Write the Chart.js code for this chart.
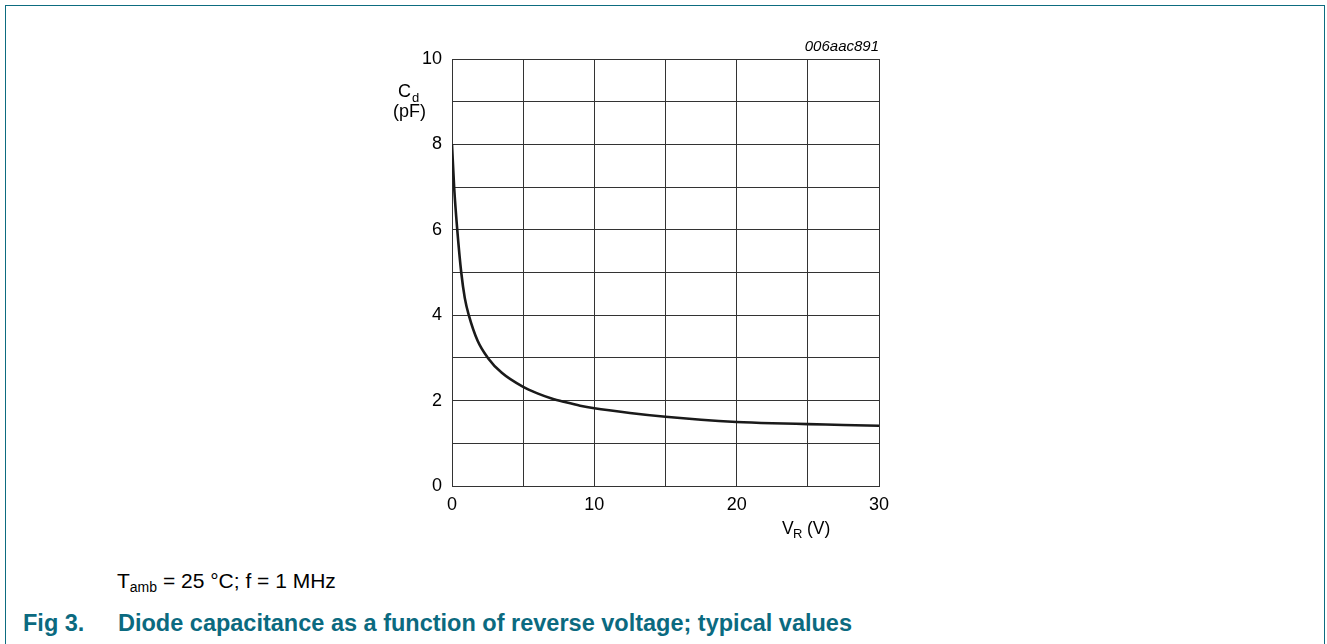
<!DOCTYPE html>
<html>
<head>
<meta charset="utf-8">
<script src="https://cdn.jsdelivr.net/npm/chart.js@4"></script>
<style>
  body { margin: 0; background: #fff; font-family: "Liberation Sans", Arial, sans-serif; }
  #frame { position: absolute; left: 5px; top: 5px; width: 1318px; height: 700px;
           border: 1.5px solid #0d6c80; border-bottom: none; }
  #wrap { position: absolute; left: 350px; top: 20px; width: 570px; height: 530px; }
  #cond { position: absolute; left: 117px; top: 571px; font-size: 21px; line-height: 20px; color: #000; white-space: nowrap; }
  #cond sub { font-size: 14px; vertical-align: -4px; }
  #fig { position: absolute; left: 23px; top: 611px; font-size: 23.5px; line-height: 24px; font-weight: bold; color: #0b6a80; white-space: nowrap; }
  #fig span { position: absolute; left: 95px; top: 0; }
</style>
</head>
<body>
<div id="frame"></div>
<div id="wrap"><canvas id="myChart"></canvas></div>
<div id="cond">T<sub>amb</sub> = 25 °C; f = 1 MHz</div>
<div id="fig">Fig 3.<span>Diode capacitance as a function of reverse voltage; typical values</span></div>
<script>
// Reverse voltage (V) and diode capacitance (pF)
var voltage = [0, 0.15, 0.37, 0.65, 0.9, 1.18, 1.8, 2.52, 3.5, 5, 6, 7, 8, 9, 10, 12.5, 15, 17.5, 20, 22.5, 25, 27.5, 30];
var capacitance = [8.0, 7.0, 6.0, 5.0, 4.4, 4.0, 3.4, 3.0, 2.65, 2.32, 2.17, 2.05, 1.96, 1.88, 1.82, 1.71, 1.62, 1.55, 1.5, 1.47, 1.45, 1.43, 1.41];
var xTicks = [0, 10, 20, 30];
var yTicks = [0, 2, 4, 6, 8, 10];

var points = voltage.map(function (v, i) { return { x: v, y: capacitance[i] }; });

// axis titles with subscripts and the figure code
var labelsPlugin = {
    id: 'labels',
    afterDraw: function (chart) {
        var c = chart.ctx, a = chart.chartArea;
        c.save();
        c.fillStyle = '#000';
        c.textBaseline = 'alphabetic';
        c.textAlign = 'left';
        // C_d (pF)
        c.font = '18px "Liberation Sans", Arial';
        c.fillText('C', a.left - 54, a.top + 38);
        c.font = '13px "Liberation Sans", Arial';
        c.fillText('d', a.left - 40, a.top + 42.5);
        c.font = '18px "Liberation Sans", Arial';
        c.fillText('(pF)', a.left - 59, a.top + 58);
        // V_R (V)
        c.font = '17.5px "Liberation Sans", Arial';
        c.fillText('V', a.right - 97, a.bottom + 48);
        c.font = '13px "Liberation Sans", Arial';
        c.fillText('R', a.right - 86, a.bottom + 52);
        c.font = '17.5px "Liberation Sans", Arial';
        c.fillText('(V)', a.right - 72, a.bottom + 48);
        // figure code
        c.font = 'italic 15px "Liberation Sans", Arial';
        c.textAlign = 'right';
        c.fillText('006aac891', a.right, a.top - 8);
        c.restore();
    }
};

var ctx = document.getElementById('myChart');
var myChart = new Chart(ctx, {
    type: 'line',
    data: {
        datasets: [{
            data: points,
            borderColor: '#1a1a1a',
            borderWidth: 2.6,
            pointRadius: 0,
            fill: false,
            cubicInterpolationMode: 'monotone'
        }]
    },
    options: {
        responsive: true,
        maintainAspectRatio: false,
        animation: false,
        layout: { padding: { top: 39, right: 41, left: 0, bottom: 0 } },
        plugins: { legend: { display: false }, tooltip: { enabled: false } },
        scales: {
            x: {
                type: 'linear',
                min: 0, max: 30,
                ticks: {
                    stepSize: 5,
                    color: '#000',
                    font: { family: '"Liberation Sans", Arial', size: 18 },
                    padding: 8,
                    maxRotation: 0,
                    callback: function (v) { return xTicks.indexOf(v) >= 0 ? String(v) : ''; }
                },
                grid: { color: '#333', lineWidth: 1, drawTicks: false },
                border: { color: '#333', width: 1 },
                afterFit: function (s) { s.height = 64; }
            },
            y: {
                min: 0, max: 10,
                ticks: {
                    stepSize: 1,
                    color: '#000',
                    font: { family: '"Liberation Sans", Arial', size: 18 },
                    padding: 10,
                    callback: function (v) { return yTicks.indexOf(v) >= 0 ? String(v) : ''; }
                },
                grid: { color: '#333', lineWidth: 1, drawTicks: false },
                border: { color: '#333', width: 1 },
                afterFit: function (s) { s.width = 102; }
            }
        }
    },
    plugins: [labelsPlugin]
});
</script>
</body>
</html>
